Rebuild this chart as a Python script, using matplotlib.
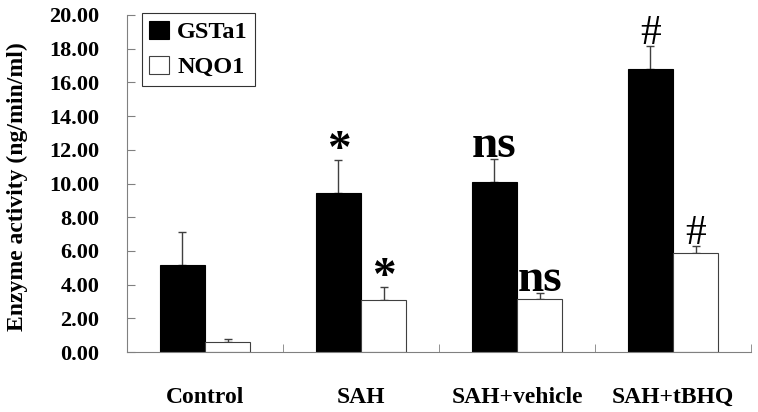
import matplotlib
matplotlib.use("Agg")
import matplotlib.pyplot as plt
import numpy as np

categories = ["Control", "SAH", "SAH+vehicle", "SAH+tBHQ"]
gsta1 = [5.16, 9.42, 10.10, 16.78]
gsta1_err = [1.98, 1.96, 1.33, 1.36]
nqo1 = [0.58, 3.07, 3.13, 5.86]
nqo1_err = [0.17, 0.77, 0.35, 0.41]
gsta1_marks = ["", "*", "ns", "#"]
nqo1_marks = ["", "*", "ns", "#"]
yticks = [0, 2, 4, 6, 8, 10, 12, 14, 16, 18, 20]

plt.rcParams['font.family'] = ['Liberation Serif', 'DejaVu Serif']

fig = plt.figure(figsize=(7.58, 4.12), dpi=100)
ax = fig.add_axes([127/758, 1-352/412, (751-127)/758, (352-15)/412])

x = np.arange(len(categories))
w = 0.29
gray = '#808080'
ax.bar(x - w/2, gsta1, w, color='black', edgecolor='black', linewidth=0.8, label='GSTa1', zorder=2)
ax.bar(x + w/2, nqo1, w, color='white', edgecolor='#404040', linewidth=0.8, label='NQO1', zorder=2)
ax.errorbar(x - w/2, gsta1, yerr=[np.zeros(len(gsta1)), gsta1_err], fmt='none',
            ecolor='#404040', elinewidth=1.0, capsize=3, capthick=1.0, zorder=1)
ax.errorbar(x + w/2, nqo1, yerr=[np.zeros(len(nqo1)), nqo1_err], fmt='none',
            ecolor='#404040', elinewidth=1.0, capsize=3, capthick=1.0, zorder=1)

def mark(xs, ys, es, marks):
    for xi, yi, ei, m in zip(xs, ys, es, marks):
        if not m:
            continue
        if m == "ns":
            ax.annotate(m, (xi, yi + ei), xytext=(0, 2), textcoords='offset points',
                        ha='center', va='baseline', fontsize=34, fontweight='bold')
        elif m == "*":
            ax.annotate(m, (xi, yi + ei), xytext=(0, -1.5), textcoords='offset points',
                        ha='center', va='baseline', fontsize=34, fontweight='bold')
        else:
            ax.annotate(m, (xi, yi + ei), xytext=(0, 2), textcoords='offset points',
                        ha='center', va='baseline', fontsize=30)

mark(x - w/2, gsta1, gsta1_err, gsta1_marks)
mark(x + w/2, nqo1, nqo1_err, nqo1_marks)

ax.set_xlim(-0.5, len(categories) - 0.5)
ax.set_ylim(0, 20)
ax.set_yticks(yticks)
ax.set_yticklabels([f"{v:.2f}" for v in yticks], fontsize=16, fontweight='bold')
ax.set_xticks(x)
ax.set_xticklabels(categories, fontsize=17, fontweight='bold')
ax.set_xticks(np.arange(len(categories) + 1) - 0.5, minor=True)
ax.tick_params(axis='x', which='major', length=0, pad=25)
ax.tick_params(axis='x', which='minor', direction='in', length=6, color=gray)
ax.tick_params(axis='y', direction='in', length=6, color=gray, pad=20)
for s in ['top', 'right']:
    ax.spines[s].set_visible(False)
for s in ['left', 'bottom']:
    ax.spines[s].set_color(gray)
ax.set_ylabel("Enzyme activity (ng/min/ml)", fontsize=17, fontweight='bold')
ax.yaxis.set_label_coords(-0.158, 0.49)

leg = ax.legend(loc='upper left', bbox_to_anchor=(0.024, 1.005), frameon=True, fancybox=False,
                edgecolor='black', prop={'weight': 'bold', 'size': 17.5}, handlelength=0.8,
                handleheight=0.8, handletextpad=0.35, borderpad=0.3, labelspacing=0.5,
                borderaxespad=0)
leg.get_frame().set_linewidth(0.8)

fig.savefig("out.png", dpi=100)
